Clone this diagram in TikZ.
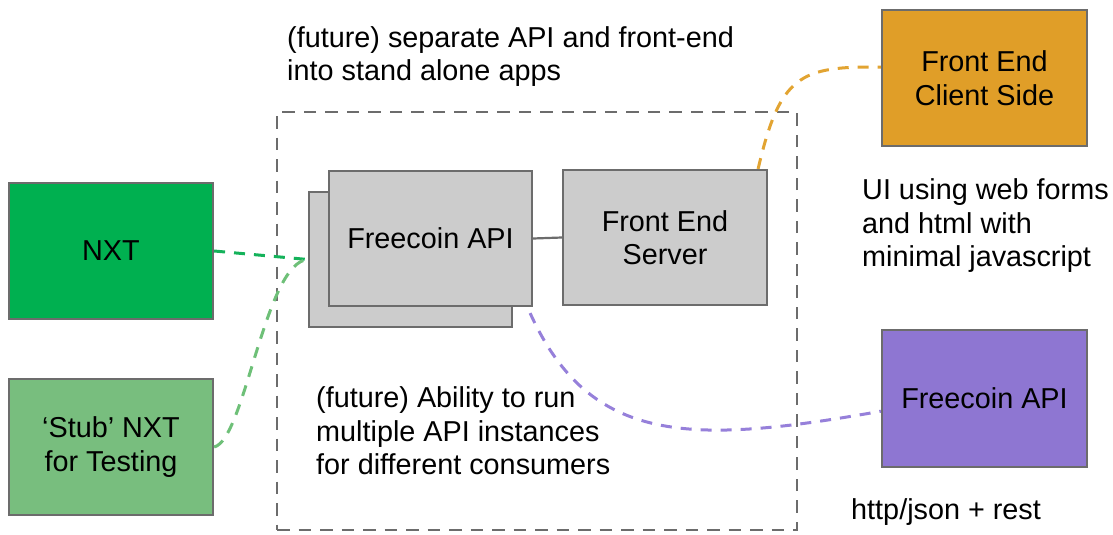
\documentclass[tikz,border=0pt]{standalone}
\usepackage{fontspec}
\setmainfont{Liberation Sans}
\definecolor{bordergray}{RGB}{108,108,108}
\definecolor{boxgray}{RGB}{204,204,204}
\definecolor{nxtgreen}{RGB}{0,176,80}
\definecolor{stubgreen}{RGB}{120,190,126}
\definecolor{clientorange}{RGB}{224,158,40}
\definecolor{apipurple}{RGB}{142,118,210}
\definecolor{linegreen}{RGB}{20,178,90}
\definecolor{linelightgreen}{RGB}{110,192,120}
\definecolor{lineorange}{RGB}{226,164,50}
\definecolor{linepurple}{RGB}{150,128,218}
\tikzset{
  box/.style={draw=bordergray, line width=2.2pt, rectangle, inner sep=0pt,
    minimum width=204pt, minimum height=136pt, align=center,
    font=\fontsize{28.8}{33.5}\selectfont},
  graybox/.style={box, fill=boxgray, minimum height=135pt},
  note/.style={inner sep=0pt, anchor=west, align=left,
    font=\fontsize{28.8}{33.5}\selectfont},
  grpbox/.style={draw=bordergray, line width=2.6pt, dash pattern=on 12.5pt off 9pt,
    rectangle, inner sep=0pt},
  conn/.style={line width=3pt, dash pattern=on 11pt off 9pt}
}
\begin{document}
\begin{tikzpicture}[x=1pt,y=-1pt]
\useasboundingbox (0,0) rectangle (1113,535);
% group container
\node[grpbox, minimum width=520pt, minimum height=418pt] (grp) at (537,321) {};
% boxes
\node[box, fill=nxtgreen] (nxt) at (111,251) {NXT};
\node[box, fill=stubgreen] (stub) at (111,447) {‘Stub’ NXT\\for Testing};
\node[graybox, minimum width=203pt] (back) at (410.5,259.5) {};
\node[graybox, minimum width=203pt] (front) at (430.5,238.5) {Freecoin API};
\node[graybox] (server) at (665,237.5) {Front End\\Server};
\node[box, fill=clientorange, minimum width=205pt] (client) at (984.5,78) {Front End\\Client Side};
\node[box, fill=apipurple, minimum width=205pt, minimum height=137pt] (fapi) at (984.5,398.5) {Freecoin API};
% notes
\node[note] (n1) at (287,56.5) {(future) separate API and front-end\\into stand alone apps};
\node[note] (n2) at (862,226) {UI using web forms\\and html with\\minimal javascript};
\node[note] (n3) at (316,431) {(future) Ability to run\\multiple API instances\\for different consumers};
\node[note] (n4) at (851,512) {http/json + rest};
% connectors
\draw[bordergray, line width=2.2pt] (front.east) -- (server.west);
\draw[conn, linegreen] (nxt.east) -- (back.west);
\draw[conn, linelightgreen] (stub.east) .. controls (245,440) and (265,262) .. (back.west);
\draw[conn, lineorange] ([xshift=-10pt]server.north east) .. controls (780,75) and (800,66) .. (client.174);
\draw[conn, linepurple] ([xshift=-3pt,yshift=-6pt]front.south east) .. controls (590,445) and (690,445) .. (fapi.187);
\end{tikzpicture}
\end{document}
